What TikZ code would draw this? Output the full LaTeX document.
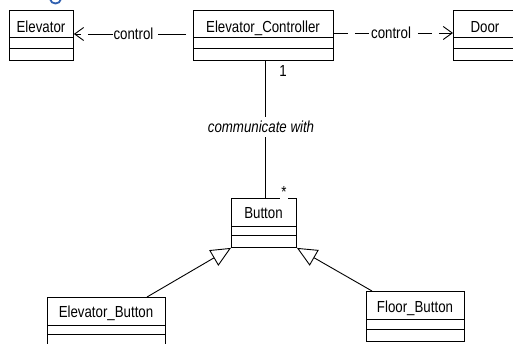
\documentclass[tikz,border=0pt]{standalone}
\usepackage{fontspec}
\setmainfont{Liberation Sans}[FakeStretch=0.83]
\usetikzlibrary{arrows.meta,calc}
\definecolor{fragblue}{HTML}{3060B0}
\begin{document}
\begin{tikzpicture}[x=1pt,y=-1pt, line width=0.9pt,
  cls/.style={draw, rectangle, anchor=north west, inner sep=0pt},
  ttl/.style={font=\fontsize{16}{19}\selectfont, inner sep=0pt, anchor=base},
  lbl/.style={font=\fontsize{16}{19}\selectfont, fill=white, inner sep=1pt},
  dep/.style={-{Straight Barb[length=9pt,width=13pt,line width=0.9pt]}},
  gen/.style={-{Triangle[open,length=20pt,width=18pt,line width=0.9pt]}}]
\useasboundingbox (0,0) rectangle (513,343);
\fill[white] (0,0) rectangle (513,343);
\clip (0,0) rectangle (513,343);
% fragment of a cut-off title
\draw[fragblue, line width=1.8pt] (50,-1) .. controls (51,5) and (60,5) .. (61,-1);
% classes
\node[cls, minimum width=64pt, minimum height=50pt] (elev) at (9,10) {};
\draw (elev.north west) ++(0,27) -- ++(64,0);
\draw (elev.north west) ++(0,38) -- ++(64,0);
\node[ttl] (elevT) at ($(elev.north west)+(32,22)$) {Elevator};

\node[cls, minimum width=140pt, minimum height=50pt] (ctrl) at (193,10) {};
\draw (ctrl.north west) ++(0,27) -- ++(140,0);
\draw (ctrl.north west) ++(0,38) -- ++(140,0);
\node[ttl] (ctrlT) at ($(ctrl.north west)+(70,22)$) {Elevator\_Controller};

\node[cls, minimum width=64pt, minimum height=50pt] (door) at (453,10) {};
\draw (door.north west) ++(0,27) -- ++(64,0);
\draw (door.north west) ++(0,38) -- ++(64,0);
\node[ttl] (doorT) at ($(door.north west)+(32,22)$) {Door};

\node[cls, minimum width=65pt, minimum height=49pt] (btn) at (231,198) {};
\draw (btn.north west) ++(0,28) -- ++(65,0);
\draw (btn.north west) ++(0,37) -- ++(65,0);
\node[ttl] (btnT) at ($(btn.north west)+(32.5,20)$) {Button};

\node[cls, minimum width=118pt, minimum height=60pt] (eb) at (47,297) {};
\draw (eb.north west) ++(0,28) -- ++(118,0);
\draw (eb.north west) ++(0,37) -- ++(118,0);
\node[ttl] (ebT) at ($(eb.north west)+(59,20)$) {Elevator\_Button};

\node[cls, minimum width=98pt, minimum height=50pt] (fb) at (366,291) {};
\draw (fb.north west) ++(0,28) -- ++(98,0);
\draw (fb.north west) ++(0,38) -- ++(98,0);
\node[ttl] (fbT) at ($(fb.north west)+(49,21)$) {Floor\_Button};

% dependencies
\draw[dep, dash pattern=on 28pt off 7pt, dash phase=28pt]
  ($(ctrl.north west)+(0,24)$) -- ($(elev.north east)+(0,24)$)
  node[lbl, midway] (c1) {control};
\draw[dep, dash pattern=on 14pt off 7pt]
  ($(ctrl.north east)+(0,23)$) -- ($(door.north west)+(0,23)$)
  node[lbl, pos=0.48, inner xsep=0pt] (c2) {control};

% association
\draw ($(ctrl.south west)+(72,0)$) -- ($(btn.north west)+(34,0)$)
  node[lbl, pos=0.48, inner ysep=4pt, xshift=-4pt, font=\fontsize{16}{19}\selectfont\itshape] (assoc) {communicate with};
\node[lbl, minimum height=20pt] (m1) at ($(ctrl.south west)+(90,10)$) {1};
\node[lbl, minimum height=16pt] (m2) at ($(btn.north west)+(53,-6.5)$) {*};

% generalizations
\draw[gen] ($(eb.north west)+(100,0)$) -- (btn.south west);
\draw[gen] ($(fb.north west)+(6,0)$) -- (btn.south east);
\end{tikzpicture}
\end{document}
